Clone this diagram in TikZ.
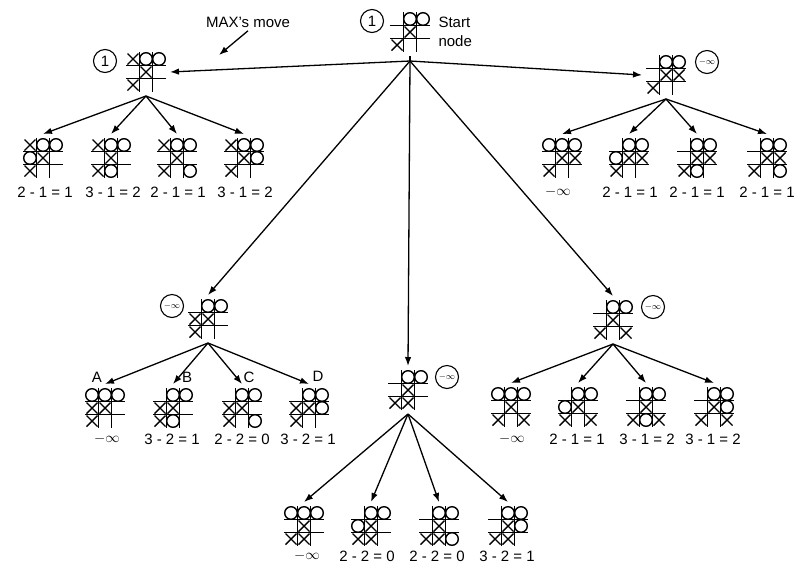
\documentclass[tikz,border=0pt]{standalone}
\usepackage{fontspec}
\setmainfont{Liberation Sans}
\usetikzlibrary{arrows.meta}

% one tic-tac-toe position: name, centre, X cells, O cells (row/col)
\newcommand{\tttboard}[4]{%
  \node[board] (#1) at (#2) {};
  \begin{scope}[shift={(#1.center)}]
    \draw[grid] (-20,-6.5) -- (20,-6.5) (-20,6.5) -- (20,6.5)
      (-6.5,-20) -- (-6.5,20) (6.5,-20) -- (6.5,20);
    \foreach \i/\j in {#3}
      \draw[xpiece] (\j*13-18.5,\i*13-18.5) -- ++(11,11) ++(-11,0) -- ++(11,-11);
    \foreach \i/\j in {#4}
      \draw[opiece] (\j*13-13,\i*13-13) circle[radius=6.3pt];
  \end{scope}}

\begin{document}
\begin{tikzpicture}[x=1pt,y=-1pt,
    every node/.append style={font=\fontsize{15}{19}\selectfont},
    board/.style={minimum size=40pt,inner sep=0pt,outer sep=4pt},
    grid/.style={line width=1.5pt},
    xpiece/.style={line width=1.4pt},
    opiece/.style={line width=1.4pt},
    score/.style={draw,circle,line width=1.1pt,minimum size=23pt,inner sep=0pt},
    minf/.style={font=\small},
    arr/.style={-{Latex[length=9pt,width=6.5pt]},line width=1.3pt}]
  \useasboundingbox (0,0) rectangle (808,566);

  % start node
  \tttboard{s}{410,32}{1/1,2/0}{0/1,0/2}
  \node[score] (sv) at (372,21) {1};
  \node[anchor=west,align=left] (st) at (435,32) {Start\\node};
  \node (max) at (248,22) {MAX's move};
  \coordinate (maxtip) at (219,55);
  \coordinate (sout) at (410,61);
  \draw[arr] (max.south) -- (maxtip);

  % MAX's five moves
  \tttboard{l}{146,72}{0/0,1/1,2/0}{0/1,0/2}
  \node[score] (lv) at (105,61) {1};
  \tttboard{r}{666,75}{1/1,1/2,2/0}{0/1,0/2}
  \node[score,minf] (rv) at (707,62) {$-\infty$};
  \tttboard{lm}{208,319}{1/0,1/1,2/0}{0/1,0/2}
  \node[score,minf] (lmv) at (172,306) {$-\infty$};
  \tttboard{mm}{408,390}{1/1,2/0,2/1}{0/1,0/2}
  \node[score,minf] (mmv) at (447,377) {$-\infty$};
  \tttboard{rm}{613,320}{1/1,2/0,2/2}{0/1,0/2}
  \node[score,minf] (rmv) at (653,307) {$-\infty$};

  \draw[line width=1.3pt] (s.south) -- (sout);
  \foreach \t/\a in {l/east,r/west,lm/north,mm/north,rm/north}
    \draw[arr] (sout) -- (\t.\a);

  % MIN's replies, top left
  \tttboard{l1}{43,158}{0/0,1/1,2/0}{0/1,0/2,1/0}
  \tttboard{l2}{111,158}{0/0,1/1,2/0}{0/1,0/2,2/1}
  \tttboard{l3}{177,158}{0/0,1/1,2/0}{0/1,0/2,2/2}
  \tttboard{l4}{244,158}{0/0,1/1,2/0}{0/1,0/2,1/2}
  \node (l1v) at (45,192) {2 - 1 = 1};
  \node (l2v) at (113,192) {3 - 1 = 2};
  \node (l3v) at (178,192) {2 - 1 = 1};
  \node (l4v) at (245,192) {3 - 1 = 2};

  % top right
  \tttboard{r1}{562,158}{1/1,1/2,2/0}{0/1,0/2,0/0}
  \tttboard{r2}{629,158}{1/1,1/2,2/0}{0/1,0/2,1/0}
  \tttboard{r3}{697,158}{1/1,1/2,2/0}{0/1,0/2,2/1}
  \tttboard{r4}{767,158}{1/1,1/2,2/0}{0/1,0/2,2/2}
  \node (r1v) at (558,192) {$-\infty$};
  \node (r2v) at (630,192) {2 - 1 = 1};
  \node (r3v) at (697,192) {2 - 1 = 1};
  \node (r4v) at (767,192) {2 - 1 = 1};

  % middle left
  \tttboard{lm1}{105,408}{1/0,1/1,2/0}{0/1,0/2,0/0}
  \tttboard{lm2}{173,408}{1/0,1/1,2/0}{0/1,0/2,2/1}
  \tttboard{lm3}{242,408}{1/0,1/1,2/0}{0/1,0/2,2/2}
  \tttboard{lm4}{309,408}{1/0,1/1,2/0}{0/1,0/2,1/2}
  \node (lm1v) at (107,439) {$-\infty$};
  \node (lm2v) at (172,439) {3 - 2 = 1};
  \node (lm3v) at (242,439) {2 - 2 = 0};
  \node (lm4v) at (308,439) {3 - 2 = 1};
  \node (A) at (97,377) {A};
  \node (B) at (187,377) {B};
  \node (C) at (249,377) {C};
  \node (D) at (318,376) {D};

  % centre
  \tttboard{mm1}{304,526}{1/1,2/0,2/1}{0/1,0/2,0/0}
  \tttboard{mm2}{371,526}{1/1,2/0,2/1}{0/1,0/2,1/0}
  \tttboard{mm3}{439,526}{1/1,2/0,2/1}{0/1,0/2,2/2}
  \tttboard{mm4}{508,526}{1/1,2/0,2/1}{0/1,0/2,1/2}
  \node (mm1v) at (307,556) {$-\infty$};
  \node (mm2v) at (367,556) {2 - 2 = 0};
  \node (mm3v) at (437,556) {2 - 2 = 0};
  \node (mm4v) at (507,556) {3 - 2 = 1};

  % middle right
  \tttboard{rm1}{511,407}{1/1,2/0,2/2}{0/1,0/2,0/0}
  \tttboard{rm2}{578,407}{1/1,2/0,2/2}{0/1,0/2,1/0}
  \tttboard{rm3}{646,407}{1/1,2/0,2/2}{0/1,0/2,2/1}
  \tttboard{rm4}{714,407}{1/1,2/0,2/2}{0/1,0/2,1/2}
  \node (rm1v) at (512,439) {$-\infty$};
  \node (rm2v) at (577,439) {2 - 1 = 1};
  \node (rm3v) at (647,439) {3 - 1 = 2};
  \node (rm4v) at (713,439) {3 - 1 = 2};

  \foreach \p in {l,r,lm,mm,rm}
    \foreach \k in {1,...,4}
      \draw[arr] (\p.south) -- (\p\k.north);
\end{tikzpicture}
\end{document}
